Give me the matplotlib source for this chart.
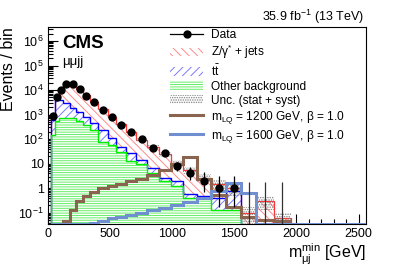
import numpy as np
import matplotlib
matplotlib.use("Agg")
import matplotlib.pyplot as plt
from matplotlib.lines import Line2D
from matplotlib.patches import Patch
from matplotlib.ticker import FixedLocator, FuncFormatter, MultipleLocator, LogLocator, NullFormatter

plt.rcParams['font.family'] = ['Liberation Sans', 'DejaVu Sans']
plt.rcParams['mathtext.fontset'] = 'custom'
plt.rcParams['mathtext.rm'] = 'Liberation Sans'
plt.rcParams['mathtext.it'] = 'Liberation Sans:italic'
plt.rcParams['mathtext.bf'] = 'Liberation Sans:bold'
plt.rcParams['hatch.linewidth'] = 0.7

# ---------------- data ----------------
bin_edges = [25, 55, 88, 121, 175, 228, 282, 335, 400, 480, 550, 630, 712, 796,
             890, 990, 1090, 1200, 1315, 1436, 1556, 1677, 1816, 1958]
data_counts = [910, 5100, 10100, 17800, 17800, 11100, 5940, 3390, 1550, 830, 380, 188,
               100, 43, 27, 8, 4, 2, 1, 1, 0, 0, 0]
other_bkg = [150, 530, 710, 750, 710, 530, 380, 240, 80, 60, 30, 13, 10, 4.2, 1.9,
             1.2, 0.4, 0.4, 0.13, 0.13, 0, 0, 0]
ttbar_plus_other = [600, 4000, 4000, 2900, 1800, 1250, 830, 450, 240, 110, 50, 27,
                    14, 6.5, 2.5, 1.9, 0.6, 0.5, 0.4, 0.8, 0, 0, 0]
total_bkg = [1000, 5300, 10500, 16500, 16000, 11000, 6300, 3400, 1650, 820, 400, 200,
             95, 48, 24, 11, 5.5, 2.7, 1.5, 1.0, 0.1, 0.3, 0.06]
rel_unc = [0.1] * 12 + [0.12, 0.15, 0.2, 0.25, 0.3, 0.35, 0.45, 0.5, 0.65, 0.55, 0.6]
lq1200 = [0, 0, 0, 0.045, 0.13, 0.29, 0.5, 0.69, 1.0, 1.2, 1.5, 1.9, 2.4, 3.5, 5.3,
          9.5, 19, 2.3, 0.55, 0.18, 0.07, 0.05, 0.045]
lq1600 = [0, 0, 0, 0, 0, 0, 0, 0.038, 0.045, 0.06, 0.07, 0.08, 0.1, 0.13, 0.155, 0.2,
          0.27, 0.4, 0.74, 1.6, 0.63, 0, 0]

labels = ["Data", "Z/γ$^{*}$ + jets", r"t$\bar{\rm t}$", "Other background",
          "Unc. (stat + syst)", r"m$_{\rm LQ}$ = 1200 GeV, β = 1.0",
          r"m$_{\rm LQ}$ = 1600 GeV, β = 1.0"]

YMIN, YMAX = 0.035, 3.7e6
XMIN, XMAX = 0, 2560

edges = np.array(bin_edges, float)
centers = 0.5 * (edges[1:] + edges[:-1])
data = np.array(data_counts, float)
oth = np.array(other_bkg, float)
tto = np.array(ttbar_plus_other, float)
tot = np.array(total_bkg, float)
unc = np.array(rel_unc) * tot
s1 = np.array(lq1200, float)
s2 = np.array(lq1600, float)

def floor(v):
    return np.where(v > 0, v, 1e-4)

fig = plt.figure(figsize=(4.07, 2.67), dpi=100)
ax = fig.add_axes([48 / 407, 1 - 224 / 267, (366 - 48) / 407, (224 - 27) / 267])

red_h, blue_h, green_h, grey_h = '#ff8a8a', '#7a7aff', '#66ee66', '#808080'
red_hatch, blue_hatch, green_hatch, unc_hatch = '\\\\\\\\', '////', '-------', '.......'
# stacked fills (each layer covers the one below)
ax.stairs(floor(tot), edges, baseline=floor(tto), fill=True, facecolor='white',
          edgecolor=red_h, hatch=red_hatch, linewidth=0, zorder=2)
ax.stairs(floor(tto), edges, baseline=floor(oth), fill=True, facecolor='white',
          edgecolor=blue_h, hatch=blue_hatch, linewidth=0, zorder=2)
ax.stairs(floor(oth), edges, baseline=1e-4, fill=True, facecolor='white',
          edgecolor=green_h, hatch=green_hatch, linewidth=0, zorder=2)
ax.stairs(floor(tot), edges, baseline=1e-4, color='#ff3333', lw=0.9, zorder=3)
ax.stairs(floor(tto), edges, baseline=1e-4, color='#0000ff', lw=1.0, zorder=3)
ax.stairs(floor(oth), edges, baseline=1e-4, color='#00ee00', lw=1.0, zorder=3)
# uncertainty band
ax.stairs(floor(tot + unc), edges, baseline=floor(tot - unc), fill=True,
          facecolor='none', edgecolor=grey_h, hatch=unc_hatch, linewidth=0, zorder=4)

# signals
ax.stairs(np.clip(s1, YMIN, None), edges, baseline=None, color='#8b6450', lw=2.2, zorder=5)
ax.stairs(np.clip(s2, YMIN, None), edges, baseline=None, color='#6f8fd0', lw=2.2, zorder=5)
ax.plot([edges[-1], XMAX], [YMIN, YMIN], color='#6f8fd0', lw=2.2, zorder=5, clip_on=True)

# data with Poisson (Garwood-like) errors
lo = np.where(data > 0, data * (1 - 1 / (9 * np.maximum(data, 1)) - 1 / (3 * np.sqrt(np.maximum(data, 1)))) ** 3, 0)
hi = (data + 1) * (1 - 1 / (9 * (data + 1)) + 1 / (3 * np.sqrt(data + 1))) ** 3
pos = data > 0
ax.errorbar(centers[pos], data[pos], yerr=[data[pos] - lo[pos], hi[pos] - data[pos]],
            fmt='o', color='black', ms=5, lw=0.9, capsize=0, zorder=6)
ax.vlines(centers[~pos], 1e-4, hi[~pos], color='#333333', lw=0.9, zorder=6)

ax.set_yscale('log')
ax.set_xlim(XMIN, XMAX)
ax.set_ylim(YMIN, YMAX)

def yfmt(v, p):
    e = int(round(np.log10(v)))
    if e == 0:
        return "1"
    if e == 1:
        return "10"
    return r"10$^{%d}$" % e
ax.yaxis.set_major_locator(FixedLocator([10.0 ** k for k in range(-1, 7)]))
ax.yaxis.set_major_formatter(FuncFormatter(yfmt))
ax.yaxis.set_minor_locator(LogLocator(base=10, subs=np.arange(2, 10), numticks=20))
ax.yaxis.set_minor_formatter(NullFormatter())
ax.xaxis.set_major_locator(MultipleLocator(500))
ax.xaxis.set_minor_locator(MultipleLocator(100))
ax.tick_params(which='both', direction='in', top=False, right=False, labelsize=9, pad=3)
ax.tick_params(which='major', length=7, width=0.8)
ax.tick_params(which='minor', length=3.5, width=0.8)
for sp in ax.spines.values():
    sp.set_linewidth(0.8)

fig.text(9 / 407, 1 - 27 / 267, "Events / bin", fontsize=11.5, rotation=90,
         ha='center', va='top')
ax.set_xlabel(r"m$^{\rm min}_{\rm μj}$ [GeV]", fontsize=11.5, loc='right', labelpad=1)

fig.text(62 / 407, 1 - 44 / 267, "CMS", fontsize=13.5, fontweight='bold', va='center', ha='left')
fig.text(62 / 407, 1 - 62 / 267, "μμjj", fontsize=9.5, va='center', ha='left')
fig.text(364 / 407, 1 - 17 / 267, r"35.9 fb$^{-1}$ (13 TeV)", fontsize=9, va='center', ha='right')

handles = [
    Line2D([], [], color='black', marker='o', ms=5, lw=0.9),
    Patch(facecolor='white', edgecolor=red_h, hatch=red_hatch, lw=0),
    Patch(facecolor='white', edgecolor=blue_h, hatch=blue_hatch, lw=0),
    Patch(facecolor='white', edgecolor=green_h, hatch=green_hatch, lw=0),
    Patch(facecolor='white', edgecolor=grey_h, hatch=unc_hatch, lw=0),
    Line2D([], [], color='#8b6450', lw=2.2),
    Line2D([], [], color='#6f8fd0', lw=2.2),
]
fig.legend(handles, labels, loc='upper left', bbox_to_anchor=(170 / 407, 1 - 29 / 267),
           frameon=False, fontsize=8.6, handlelength=2.8, handleheight=0.7,
           handletextpad=0.6, labelspacing=0.17, borderpad=0, borderaxespad=0)

fig.savefig("out.png", dpi=100)
